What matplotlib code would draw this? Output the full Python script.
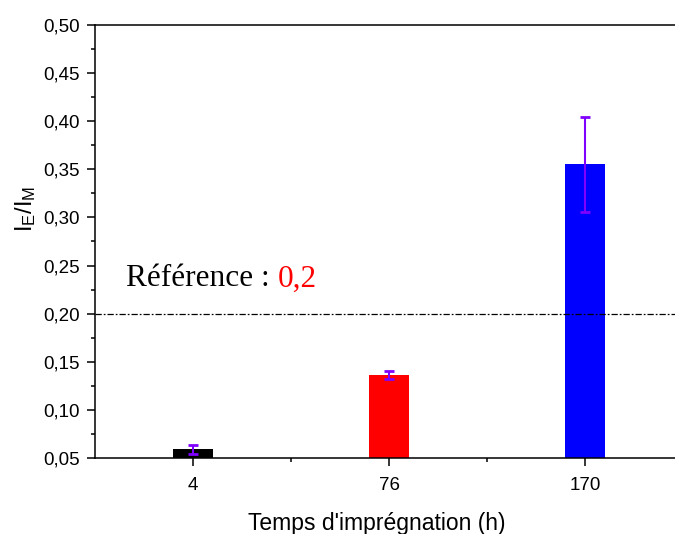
import matplotlib
matplotlib.use("Agg")
import matplotlib.pyplot as plt
from matplotlib.ticker import FixedLocator, FuncFormatter
import numpy as np

# data
times = ["4", "76", "170"]
ratio = [0.059, 0.136, 0.355]
ratio_err = [0.0045, 0.004, 0.049]
bar_colors = ["#000000", "#ff0000", "#0000ff"]
reference = 0.2


def main():
    plt.rcParams["font.family"] = ["Liberation Sans", "DejaVu Sans"]
    plt.rcParams["mathtext.fontset"] = "custom"
    plt.rcParams["mathtext.rm"] = "Liberation Sans"
    plt.rcParams["mathtext.it"] = "Liberation Sans"

    fig = plt.figure(figsize=(6.75, 5.34), dpi=100)
    ax = fig.add_axes([95 / 675, 0.1423, 588 / 675, 0.811])

    pos = np.arange(1, len(times) + 1)
    ax.bar(pos, ratio, width=0.2, color=bar_colors, bottom=0, zorder=2)
    ax.errorbar(
        pos, ratio, yerr=ratio_err, fmt="none", ecolor="#8000ff",
        elinewidth=1.5, capsize=3.5, capthick=2, zorder=3,
    )

    ax.axhline(reference, color="black", linewidth=0.9,
               dashes=(5, 1.6, 1.4, 1.6), zorder=4)

    t = ax.text(0.658, 0.221, "Référence : ", family="Liberation Serif",
                fontsize=22.5, color="black", va="bottom", ha="left")
    ax.annotate(f"{reference:.1f}".replace(".", ","), xy=(1, 0), xycoords=t,
                family="Liberation Serif", fontsize=22.5, color="#ff0000",
                va="bottom", ha="left")

    ax.set_xlim(0.5, 3.5)
    ax.set_ylim(0.05, 0.50)
    ax.set_xticks(pos)
    ax.set_xticklabels(times)
    ax.xaxis.set_minor_locator(FixedLocator([1.5, 2.5]))
    ax.set_yticks(np.arange(0.05, 0.501, 0.05))
    ax.yaxis.set_minor_locator(FixedLocator(np.arange(0.075, 0.5, 0.05)))
    ax.yaxis.set_major_formatter(FuncFormatter(lambda v, _: f"{v:.2f}".replace(".", ",")))

    ax.tick_params(which="major", direction="out", length=6, width=1.1,
                   labelsize=13.5, pad=5)
    ax.tick_params(axis="x", which="major", pad=8)
    ax.tick_params(which="minor", direction="out", length=3, width=1.1)
    ax.tick_params(top=False, right=False, which="both")
    for s in ax.spines.values():
        s.set_linewidth(1.1)

    ax.set_xlabel("Temps d'imprégnation (h)", fontsize=16.5)
    ax.xaxis.set_label_coords(0.48, -0.125)
    ax.set_ylabel(r"$\mathregular{I_E/I_M}$", fontsize=17)
    ax.yaxis.set_label_coords(-0.097, 0.575)

    fig.savefig("out.png", dpi=100)


if __name__ == "__main__":
    main()
